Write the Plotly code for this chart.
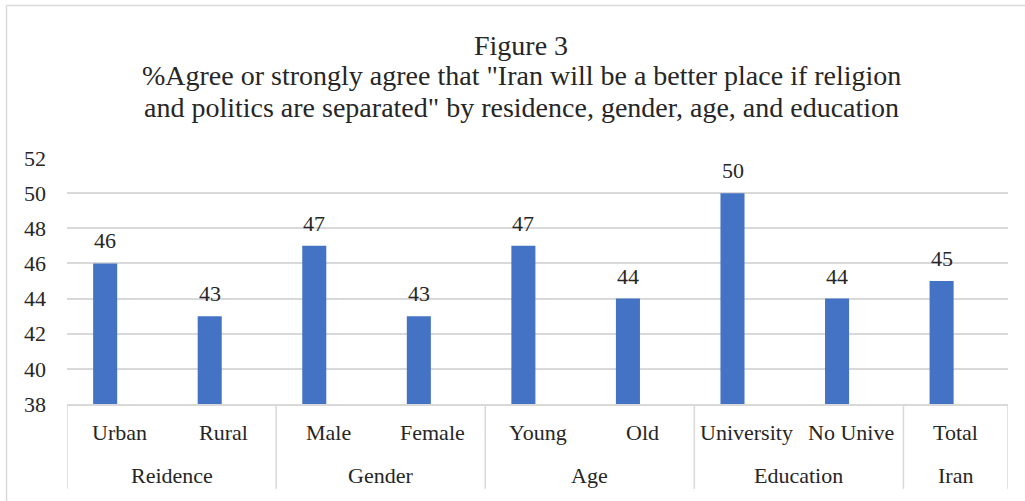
import plotly.graph_objects as go

categories = ["Urban", "Rural", "Male", "Female", "Young", "Old", "University", "No Unive", "Total"]
groups = ["Reidence", "Gender", "Age", "Education", "Iran"]
group_spans = [(0, 1), (2, 3), (4, 5), (6, 7), (8, 8)]
values = [46, 43, 47, 43, 47, 44, 50, 44, 45]
y_ticks = [38, 40, 42, 44, 46, 48, 50, 52]
title_lines = [
    "Figure 3",
    "%Agree or strongly agree that \"Iran will be a better place if religion",
    "and politics are separated\" by residence, gender, age, and education",
]

FONT = "Liberation Serif"
TXT = "#262626"
GRID = "#D9D9D9"
BAR = "#4472C4"

idx = list(range(len(categories)))

fig = go.Figure()
fig.add_trace(go.Bar(
    x=idx, y=values,
    base=0,
    width=0.23, offset=-0.25,
    marker=dict(color=BAR, line=dict(width=0)),
    hoverinfo="skip",
))

annotations = []
# data labels above bars
for i, v in zip(idx, values):
    annotations.append(dict(
        text=str(v), x=i - 0.135, xref="x", y=v, yref="y",
        xanchor="center", yanchor="bottom", yshift=8, showarrow=False,
        font=dict(family=FONT, size=22, color=TXT),
    ))
# title, one annotation per line
for line, ty in zip(title_lines, [1.459, 1.337, 1.207]):
    annotations.append(dict(
        text=line, x=0.4825, xref="paper", y=ty, yref="paper",
        xanchor="center", yanchor="middle", showarrow=False,
        font=dict(family=FONT, size=28, color=TXT),
    ))
# category labels
for i, c in zip(idx, categories):
    annotations.append(dict(
        text=c, x=i, xref="x", y=-0.114, yref="paper",
        xanchor="center", yanchor="middle", showarrow=False,
        font=dict(family=FONT, size=22, color=TXT),
    ))
for g, (a, b) in zip(groups, group_spans):
    annotations.append(dict(
        text=g, x=(a + b) / 2, xref="x", y=-0.289, yref="paper",
        xanchor="center", yanchor="middle", showarrow=False,
        font=dict(family=FONT, size=22, color=TXT),
    ))

shapes = []
seps = [-0.5] + [b + 0.5 for (a, b) in group_spans]
for s in seps:
    shapes.append(dict(type="line", x0=s, x1=s, xref="x", y0=0, y1=-0.345, yref="paper",
                       line=dict(color=GRID, width=1.5)))
# outer chart border (left and top)
shapes.append(dict(type="line", x0=-0.0643, x1=-0.0643, xref="paper", y0=-0.5, y1=1.62, yref="paper",
                   line=dict(color=GRID, width=1.5)))
shapes.append(dict(type="line", x0=-0.0643, x1=1.1, xref="paper", y0=1.62, y1=1.62, yref="paper",
                   line=dict(color=GRID, width=1.5)))

fig.update_layout(
    width=1025, height=501,
    margin=dict(l=67, r=17, t=158, b=97),
    paper_bgcolor="white", plot_bgcolor="white",
    showlegend=False,
    annotations=annotations,
    shapes=shapes,
    font=dict(family=FONT, color=TXT),
    xaxis=dict(range=[-0.5, 8.5], showticklabels=False, showgrid=False, zeroline=False,
               showline=True, linecolor=GRID, linewidth=1.5, ticks=""),
    yaxis=dict(range=[38, 52], tickvals=y_ticks, showgrid=True, gridcolor=GRID, gridwidth=1.5,
               zeroline=False, showline=False, ticks="", ticklabelstandoff=20,
               tickfont=dict(family=FONT, size=22, color=TXT)),
)

fig.write_html("out.html", config={"displayModeBar": False},
               post_script="document.body.style.margin='0';")
